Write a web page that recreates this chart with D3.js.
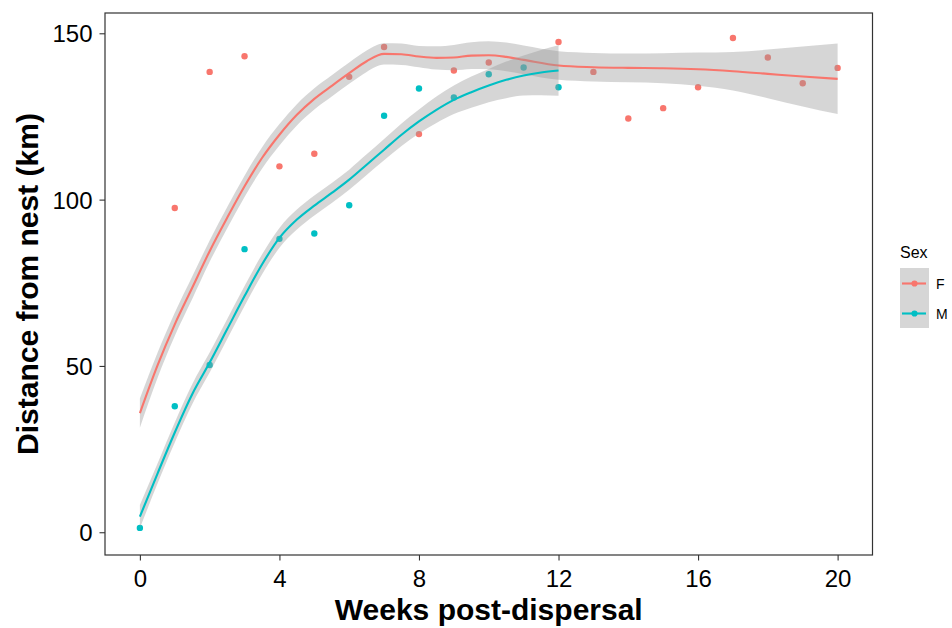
<!DOCTYPE html>
<html>
<head>
<meta charset="utf-8">
<script src="https://cdn.jsdelivr.net/npm/d3@7"></script>
<style>
  html, body { margin: 0; padding: 0; background: #fff; }
  svg { display: block; font-family: "Liberation Sans", Arial, sans-serif; }
</style>
</head>
<body>
<svg id="chart" width="952" height="628"></svg>
<script>
// Observed distances from the nest, per week after dispersal
const weeksF = [1, 2, 3, 4, 5, 6, 7, 8, 9, 10, 12, 13, 14, 15, 16, 17, 18, 19, 20];
const distF  = [97.5, 138.4, 143.1, 110.0, 113.8, 136.9, 145.9, 119.7, 138.8, 141.2,
                147.4, 138.4, 124.4, 127.5, 133.8, 148.6, 142.7, 135.0, 139.6];
const weeksM = [0, 1, 2, 3, 4, 5, 6, 7, 8, 9, 10, 11, 12];
const distM  = [1.3, 37.9, 50.3, 85.1, 88.2, 89.8, 98.3, 125.2, 133.4, 130.7, 137.7, 139.7, 133.8];

// Loess smooth (fit and half-width of the confidence band) for each sex
const fitWeeksF = [0, 0.5, 1, 1.5, 2, 2.5, 3, 3.5, 4, 4.5, 5, 5.5, 6, 6.5, 7, 7.5, 8, 8.5, 9, 9.5,
                   10, 10.5, 11, 12, 13, 14, 15, 16, 17, 18, 19, 20];
const fitF      = [35.8, 50, 62.5, 73.5, 84.5, 94.5, 104, 112.5, 119.5, 125.5, 130.3, 134.2, 138,
                   141.6, 143.8, 143.7, 143, 142.6, 142.7, 143.3, 143.4, 142.9, 142, 140.3, 139.8,
                   139.6, 139.5, 139.2, 138.6, 137.8, 137, 136.3];
const seF       = [4.4, 3.8, 3.5, 3.4, 3.2, 3.2, 3.2, 3.2, 3.2, 3.2, 3.2, 3.2, 3.2, 3.2, 3.2, 3.2,
                   3.2, 3.5, 3.8, 4, 4.2, 4.3, 4.3, 4.3, 4.3, 4.3, 4.5, 5, 5.8, 7.3, 9, 10.6];
const fitWeeksM = [0, 0.5, 1, 1.5, 2, 2.5, 3, 3.5, 4, 4.5, 5, 5.5, 6, 6.5, 7, 7.5, 8, 8.5, 9, 9.5,
                   10, 10.5, 11, 11.5, 12];
const fitM      = [4.7, 17.5, 30, 41.5, 51, 61, 71, 80.5, 88.5, 94, 98.2, 102, 106, 110.5, 115,
                   119.5, 123.5, 127, 130, 132.3, 134.3, 136, 137.3, 138.2, 138.8];
const seM       = [3.5, 3, 3, 3, 3, 3, 3, 3, 3, 3, 3, 3, 3, 3.1, 3.2, 3.4, 3.6, 4, 4.3, 4.7,
                   5, 5.5, 6, 6.8, 7.6];

const xTicks = [0, 4, 8, 12, 16, 20];
const yTicks = [0, 50, 100, 150];
const sexes = ["F", "M"];
const sexColors = ["#F8766D", "#00BFC4"];

const svg = d3.select("#chart");
const panel = { left: 105, right: 872.5, top: 13, bottom: 555 };

const x = d3.scaleLinear().domain([-1, 21]).range([panel.left, panel.right]);
const y = d3.scaleLinear().domain([-6.84, 156.1]).range([panel.bottom, panel.top]);
const color = d3.scaleOrdinal().domain(sexes).range(sexColors);

const plot = svg.append("g");

// Points sit underneath the smooths
const pts = [
  ...weeksF.map((w, i) => ({ sex: "F", w, d: distF[i] })),
  ...weeksM.map((w, i) => ({ sex: "M", w, d: distM[i] }))
];
plot.selectAll("circle.pt")
  .data(pts)
  .join("circle")
  .attr("class", "pt")
  .attr("cx", d => x(d.w))
  .attr("cy", d => y(d.d))
  .attr("r", 3.2)
  .attr("fill", d => color(d.sex));

// Smooth: band then line, one sex after the other
const smooths = [
  { sex: "F", rows: fitWeeksF.map((w, i) => ({ w, f: fitF[i], se: seF[i] })) },
  { sex: "M", rows: fitWeeksM.map((w, i) => ({ w, f: fitM[i], se: seM[i] })) }
];
const area = d3.area()
  .x(d => x(d.w))
  .y0(d => y(d.f - d.se))
  .y1(d => y(d.f + d.se))
  .curve(d3.curveMonotoneX);
const line = d3.line()
  .x(d => x(d.w))
  .y(d => y(d.f))
  .curve(d3.curveMonotoneX);

smooths.forEach(s => {
  plot.append("path")
    .attr("d", area(s.rows))
    .attr("fill", "#999999")
    .attr("fill-opacity", 0.4);
  plot.append("path")
    .attr("d", line(s.rows))
    .attr("fill", "none")
    .attr("stroke", color(s.sex))
    .attr("stroke-width", 2.1);
});

// Panel border
svg.append("rect")
  .attr("x", panel.left).attr("y", panel.top)
  .attr("width", panel.right - panel.left)
  .attr("height", panel.bottom - panel.top)
  .attr("fill", "none")
  .attr("stroke", "#333333")
  .attr("stroke-width", 1.2);

// Axes
const xAxis = svg.append("g")
  .attr("transform", `translate(0,${panel.bottom})`)
  .call(d3.axisBottom(x).tickValues(xTicks).tickSize(5.5).tickPadding(5).tickFormat(d3.format("d")));
const yAxis = svg.append("g")
  .attr("transform", `translate(${panel.left},0)`)
  .call(d3.axisLeft(y).tickValues(yTicks).tickSize(5.5).tickPadding(7).tickFormat(d3.format("d")));
[xAxis, yAxis].forEach(a => {
  a.select(".domain").remove();
  a.selectAll(".tick line").attr("stroke", "#333333").attr("stroke-width", 1.1);
  a.selectAll(".tick text")
    .attr("fill", "#000")
    .style("font-size", "24px")
    .style("font-family", "'Liberation Sans', Arial, sans-serif");
});
xAxis.selectAll(".tick text").attr("dy", "0.9em");
yAxis.selectAll(".tick text").attr("dy", "0.36em");

// Axis titles
svg.append("text")
  .attr("x", (panel.left + panel.right) / 2)
  .attr("y", 620)
  .attr("text-anchor", "middle")
  .style("font-size", "30px")
  .style("font-weight", "bold")
  .attr("fill", "#000")
  .text("Weeks post-dispersal");
svg.append("text")
  .attr("transform", `translate(38,${(panel.top + panel.bottom) / 2}) rotate(-90)`)
  .attr("text-anchor", "middle")
  .style("font-size", "30px")
  .style("font-weight", "bold")
  .attr("fill", "#000")
  .text("Distance from nest (km)");

// Legend
const legend = svg.append("g").attr("transform", "translate(900,0)");
legend.append("text")
  .attr("x", 0).attr("y", 258)
  .style("font-size", "16px")
  .attr("fill", "#000")
  .text("Sex");
const keys = legend.selectAll("g.key")
  .data(sexes)
  .join("g")
  .attr("class", "key")
  .attr("transform", (d, i) => `translate(0,${268 + i * 30})`);
keys.append("rect")
  .attr("width", 29).attr("height", 30)
  .attr("fill", "#999999").attr("fill-opacity", 0.4);
keys.append("line")
  .attr("x1", 2).attr("x2", 26).attr("y1", 15.5).attr("y2", 15.5)
  .attr("stroke", d => color(d)).attr("stroke-width", 2.1);
keys.append("circle")
  .attr("cx", 14.5).attr("cy", 15.5).attr("r", 3.1)
  .attr("fill", d => color(d));
keys.append("text")
  .attr("x", 36).attr("y", 15.5).attr("dy", "0.36em")
  .style("font-size", "14px")
  .attr("fill", "#000")
  .text(d => d);
</script>
</body>
</html>
